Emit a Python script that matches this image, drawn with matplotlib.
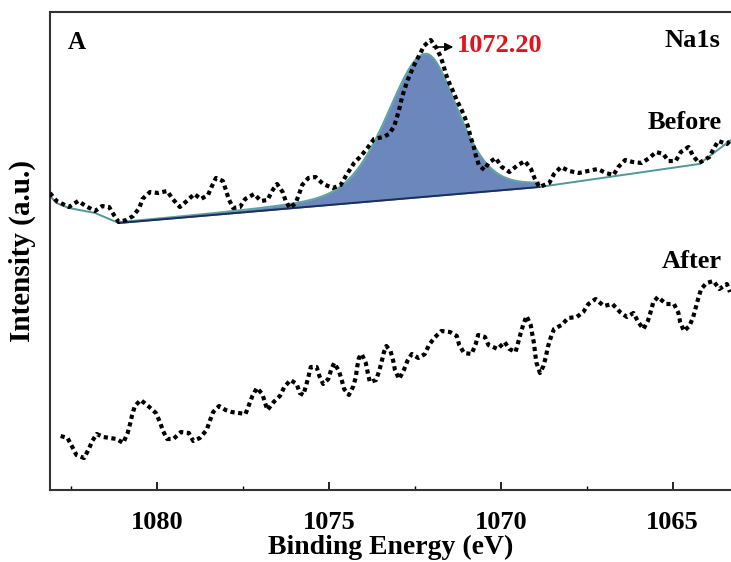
import numpy as np
import matplotlib.pyplot as plt

plt.rcParams['font.family'] = ['Liberation Serif', 'DejaVu Serif']
plt.rcParams['font.weight'] = 'bold'

# Na1s spectrum before the treatment (binding energy in eV, intensity in a.u.)
energy_before = [
    1083.12, 1082.93, 1082.57, 1082.30, 1082.08, 1081.81, 1081.60, 1081.40, 1081.26, 1081.12,
    1080.90, 1080.70, 1080.52, 1080.43, 1080.21, 1079.97, 1079.71, 1079.55, 1079.34, 1079.14,
    1078.92, 1078.73, 1078.52, 1078.42, 1078.29, 1078.09, 1078.00, 1077.92, 1077.79, 1077.59,
    1077.44, 1077.18, 1076.98, 1076.79, 1076.64, 1076.51, 1076.35, 1076.26, 1076.14, 1075.97,
    1075.87, 1075.78, 1075.60, 1075.39, 1075.17, 1074.89, 1074.66, 1074.51, 1074.27, 1074.07,
    1073.86, 1073.69, 1073.42, 1073.25, 1073.10, 1073.02, 1072.94, 1072.88, 1072.80, 1072.71,
    1072.61, 1072.48, 1072.35, 1072.24, 1072.04, 1071.89, 1071.76, 1071.68, 1071.60, 1071.50,
    1071.38, 1071.27, 1071.14, 1071.04, 1070.95, 1070.88, 1070.80, 1070.73, 1070.64, 1070.48,
    1070.36, 1070.15, 1069.97, 1069.75, 1069.54, 1069.30, 1069.12, 1069.02, 1068.88, 1068.59,
    1068.45, 1068.25, 1068.01, 1067.73, 1067.46, 1067.18, 1066.94, 1066.72, 1066.58, 1066.38,
    1066.16, 1065.90, 1065.68, 1065.48, 1065.27, 1065.12, 1064.91, 1064.76, 1064.54, 1064.40,
    1064.23, 1063.93, 1063.81, 1063.67, 1063.42, 1063.30]
intensity_before = [
    297, 289, 283, 289, 284, 279, 284, 283, 275, 268,
    270, 274, 282, 291, 298, 297, 299, 291, 283, 289,
    296, 291, 295, 303, 312, 309, 300, 291, 282, 283,
    291, 296, 289, 290, 300, 306, 298, 289, 282, 287,
    296, 305, 312, 313, 306, 302, 305, 314, 327, 334,
    343, 351, 353, 356, 364, 373, 383, 392, 401, 410,
    418, 428, 436, 444, 450, 443, 434, 426, 416, 407,
    398, 389, 380, 372, 363, 353, 345, 335, 325, 320,
    327, 332, 323, 318, 324, 329, 321, 312, 303, 307,
    316, 323, 319, 317, 319, 321, 317, 315, 323, 330,
    328, 327, 332, 338, 336, 329, 329, 338, 343, 334,
    327, 333, 341, 349, 346, 350]

# Na1s spectrum after the treatment
energy_after = [
    1082.81, 1082.61, 1082.47, 1082.35, 1082.13, 1081.99, 1081.89, 1081.76, 1081.57, 1081.38,
    1081.18, 1080.99, 1080.86, 1080.79, 1080.73, 1080.65, 1080.48, 1080.23, 1080.04, 1079.92,
    1079.83, 1079.71, 1079.53, 1079.31, 1079.08, 1078.95, 1078.76, 1078.56, 1078.47, 1078.37,
    1078.20, 1078.01, 1077.83, 1077.64, 1077.43, 1077.33, 1077.23, 1077.10, 1076.94, 1076.86,
    1076.79, 1076.61, 1076.43, 1076.30, 1076.12, 1075.94, 1075.85, 1075.75, 1075.67, 1075.60,
    1075.53, 1075.36, 1075.28, 1075.17, 1075.02, 1074.94, 1074.85, 1074.71, 1074.63, 1074.56,
    1074.42, 1074.29, 1074.22, 1074.18, 1074.13, 1074.05, 1073.93, 1073.87, 1073.81, 1073.63,
    1073.54, 1073.47, 1073.40, 1073.33, 1073.21, 1073.13, 1073.08, 1072.96, 1072.82, 1072.72,
    1072.59, 1072.40, 1072.21, 1072.09, 1071.94, 1071.73, 1071.48, 1071.28, 1071.21, 1071.07,
    1070.85, 1070.73, 1070.66, 1070.46, 1070.36, 1070.09, 1069.89, 1069.75, 1069.57, 1069.49,
    1069.42, 1069.34, 1069.25, 1069.13, 1069.08, 1069.03, 1069.00, 1068.96, 1068.86, 1068.76,
    1068.69, 1068.63, 1068.55, 1068.45, 1068.23, 1068.04, 1067.79, 1067.60, 1067.45, 1067.24,
    1067.00, 1066.75, 1066.53, 1066.33, 1066.14, 1066.00, 1065.85, 1065.72, 1065.64, 1065.56,
    1065.43, 1065.19, 1064.96, 1064.83, 1064.78, 1064.67, 1064.51, 1064.40, 1064.32, 1064.25,
    1064.17, 1064.01, 1063.81, 1063.64, 1063.42, 1063.33]
intensity_after = [
    54, 52, 43, 35, 32, 41, 49, 56, 53, 52,
    51, 47, 57, 66, 75, 84, 90, 83, 77, 68,
    59, 51, 51, 58, 57, 49, 52, 60, 69, 78,
    84, 80, 78, 77, 76, 85, 94, 102, 96, 87,
    80, 88, 94, 103, 110, 106, 97, 95, 104, 113,
    123, 123, 114, 106, 111, 120, 127, 119, 110, 101,
    95, 104, 113, 123, 132, 136, 127, 117, 108, 110,
    119, 128, 138, 144, 139, 129, 120, 111, 120, 129,
    136, 132, 136, 145, 152, 159, 158, 154, 145, 137,
    136, 146, 155, 153, 145, 141, 148, 141, 138, 148,
    157, 166, 174, 165, 155, 146, 136, 127, 117, 124,
    133, 143, 152, 161, 165, 172, 173, 178, 186, 191,
    184, 186, 178, 173, 177, 168, 161, 169, 178, 188,
    193, 186, 186, 177, 168, 159, 164, 173, 183, 192,
    201, 207, 209, 201, 206, 198]

# fitted background (nodes) and asymmetric Na1s component of the "Before" spectrum
bg_energy = [1083.12, 1082.93, 1082.57, 1081.81, 1081.12, 1068.88, 1064.23, 1063.30]
bg_intensity = [294, 287, 282, 277, 267, 303, 326, 350]
peak_center = 1072.20
peak_height = 143
peak_fwhm_high = 2.6   # high binding energy side
peak_fwhm_low = 2.2    # low binding energy side
peak_lorentz = 0.3
fit_start, fit_end = 1081.12, 1068.88

fig = plt.figure(figsize=(7.31, 5.62), dpi=100)
ax = fig.add_axes([50 / 731, 72 / 562, 681 / 731, 478 / 562])

# fitted envelope over the fit window
e_fit = np.linspace(fit_end, fit_start, 400)
bg_fit = np.interp(e_fit, bg_energy[::-1], bg_intensity[::-1])
fwhm = np.where(e_fit > peak_center, peak_fwhm_high, peak_fwhm_low)
u = (e_fit - peak_center) / fwhm
shape = (1 - peak_lorentz) * np.exp(-4 * np.log(2) * u ** 2) + peak_lorentz / (1 + 4 * u ** 2)
envelope = bg_fit + peak_height * shape

ax.fill_between(e_fit, bg_fit, envelope, color='#6b87bb', lw=0, zorder=1)
ax.plot(bg_energy, bg_intensity, color='#4e9a98', lw=1.4, zorder=2)
ax.plot(e_fit, envelope, color='#5fa3a3', lw=1.4, zorder=2)
ax.plot(e_fit, bg_fit, color='#1f2b66', lw=1.4, zorder=2)

dot = dict(color='black', lw=3.0, linestyle=(0, (1, 0.85)), dash_capstyle='butt', zorder=3)
ax.plot(energy_before, intensity_before, **dot)
ax.plot(energy_after, intensity_after, **dot)

ax.set_xlim(1083.12, 1063.30)
ax.set_ylim(0, 478)
ax.set_xticks([1080, 1075, 1070, 1065])
ax.set_xticks([1082.5, 1077.5, 1072.5, 1067.5], minor=True)
ax.tick_params(axis='x', which='major', direction='in', length=6, width=1.2, labelsize=19, pad=15)
ax.tick_params(axis='x', which='minor', direction='in', length=3, width=1.0)
ax.set_yticks([])
ax.spines['right'].set_visible(False)
for s in ['left', 'top', 'bottom']:
    ax.spines[s].set_linewidth(1.5)
    ax.spines[s].set_color('#333333')

ax.set_xlabel('Binding Energy (eV)', fontsize=20, fontweight='bold', labelpad=1)
ax.set_ylabel('Intensity (a.u.)', fontsize=21, fontweight='bold', labelpad=10)

ax.text(0.026, 0.937, 'A', transform=ax.transAxes, fontsize=18, va='center', ha='left')
ax.text(0.984, 0.941, 'Na1s', transform=ax.transAxes, fontsize=19, va='center', ha='right')
ax.text(0.987, 0.768, 'Before', transform=ax.transAxes, fontsize=19, va='center', ha='right')
ax.text(0.987, 0.477, 'After', transform=ax.transAxes, fontsize=19, va='center', ha='right')

ax.annotate('', xy=(1071.30, 443), xytext=(1072.05, 443),
            arrowprops=dict(arrowstyle='-|>', color='black', lw=1.2, mutation_scale=12))
ax.text(1071.28, 445, '1072.20', color='#e3121b', fontsize=19, va='center', ha='left')

fig.savefig('out.png', dpi=100)
